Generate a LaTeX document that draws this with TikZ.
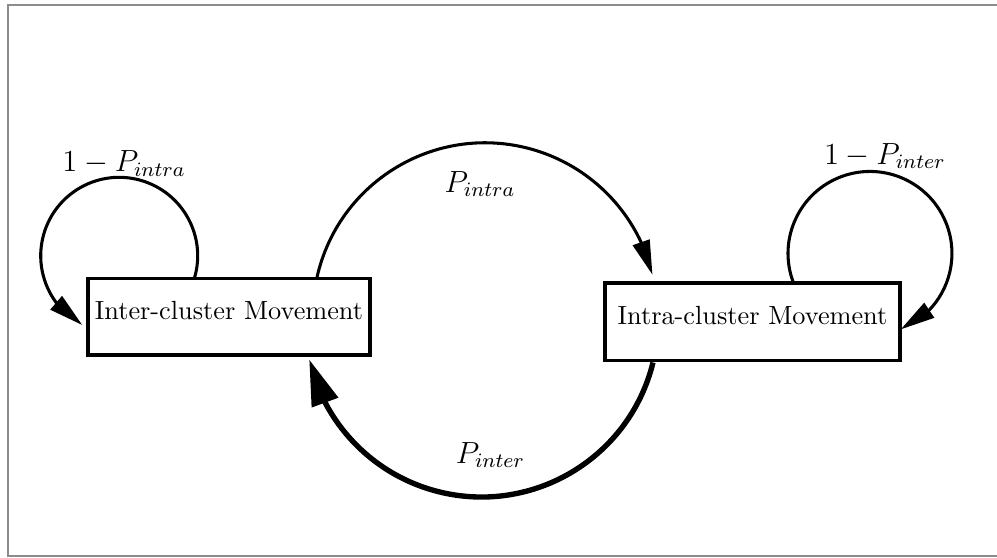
\documentclass[tikz,border=0pt]{standalone}
\usepackage{amsmath,amssymb}
\usetikzlibrary{arrows.meta,bending}

\begin{document}
\begin{tikzpicture}[
            boxnode/.style={rectangle, draw=black, line width=1.2pt, minimum height=1.047cm, text depth=0.17cm, inner sep=2pt, font=\fontsize{10.3}{12.4}\selectfont},
            thinarrow/.style={-{Triangle[length=13.5pt,width=6.8pt]}, line width=1.2pt},
            thickarrow/.style={-{Triangle[length=18pt,width=10.6pt]}, line width=2.1pt},
            problabel/.style={font=\large}
          ]

          %Frame
          \useasboundingbox (0,0) rectangle (13.733,-7.686);
          \draw[black!45, line width=0.8pt] (13.733,-0.069) -| (0.110,-7.658) -- (13.733,-7.658);

          %Nodes
          \node[boxnode, minimum width=3.884cm] at (3.154,-4.366) (inter) {Inter-cluster Movement};
          \node[boxnode, minimum width=4.063cm, minimum height=1.074cm] at (10.365,-4.435) (intra) {Intra-cluster Movement};

          %Lines
          \draw[thinarrow] ([xshift=1.49cm]inter.north west) arc[start angle=-16, end angle=242, radius=1.081cm];
          \draw[thinarrow] ([xshift=2.61cm]intra.north west) arc[start angle=200, end angle=-68, radius=1.129cm];
          \draw[thinarrow] ([xshift=-0.751cm]inter.north east) arc[start angle=167.4, end angle=13.5, radius=2.372cm];
          \draw[thickarrow] ([xshift=0.682cm]intra.south west) arc[start angle=-13.8, end angle=-167.2, radius=2.433cm];

          %Labels
          \node[problabel] at (1.708,-2.252) (selfintra) {$1-P_{intra}$};
          \node[problabel] at (12.190,-2.149) (selfinter) {$1-P_{inter}$};
          \node[problabel] at (6.612,-2.534) (pintra) {$P_{intra}$};
          \node[problabel] at (6.756,-6.267) (pinter) {$P_{inter}$};

        \end{tikzpicture}
\end{document}
